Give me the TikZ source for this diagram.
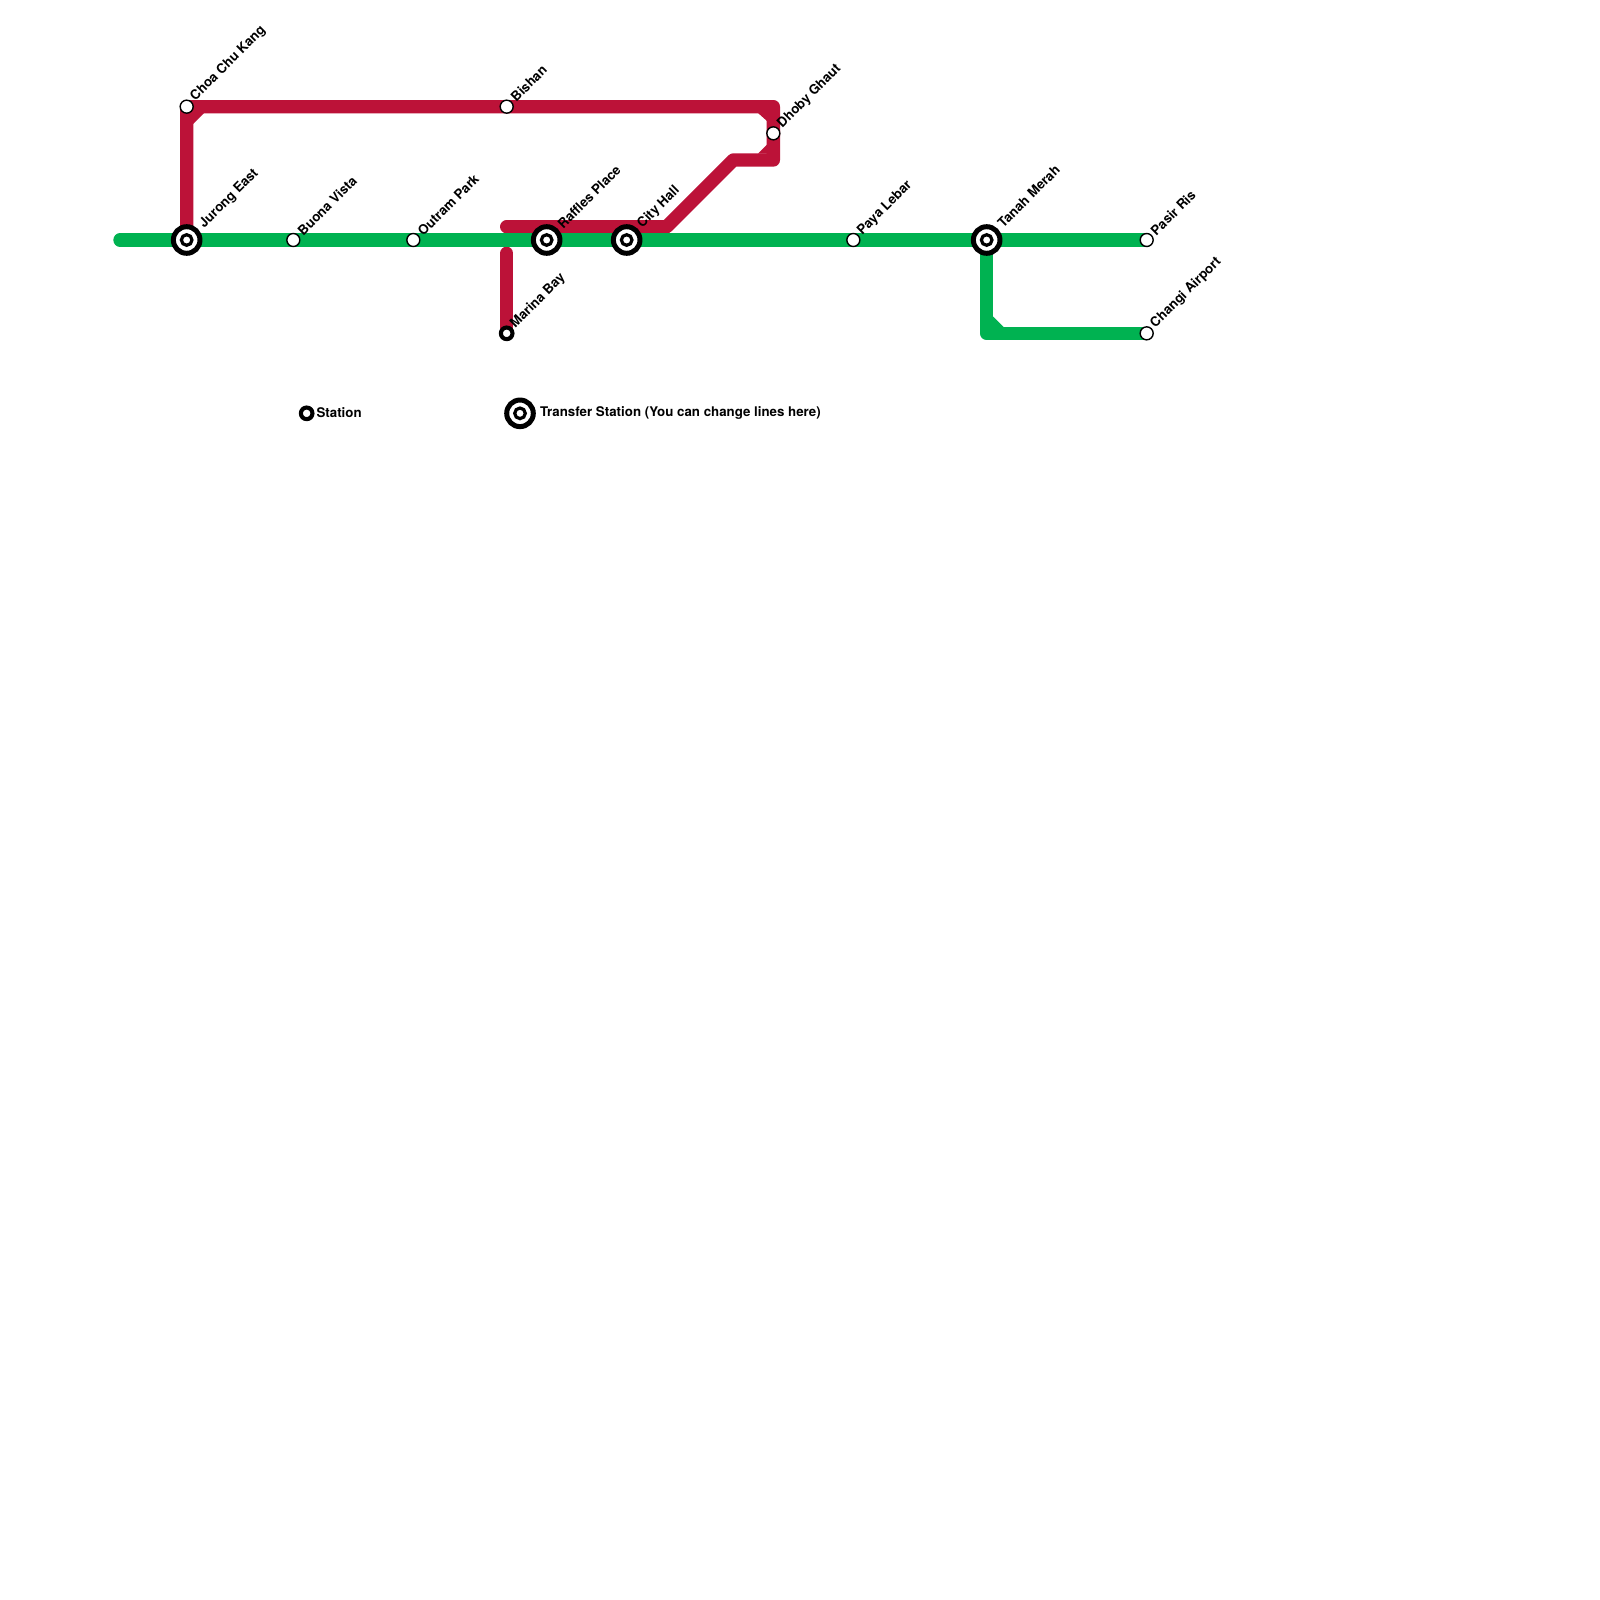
\documentclass[tikz,border=0pt]{standalone}
\usepackage{fontspec}
\setmainfont{TeX Gyre Heros}
\definecolor{redline}{HTML}{BC1238}
\definecolor{greenline}{HTML}{00B251}
\tikzset{
  x=1pt,y=-1pt,
  metro/.style={line width=13.33pt,line join=round,line cap=round},
  redl/.style={metro,draw=redline},
  greenl/.style={metro,draw=greenline},
  plain/.style={circle,draw=black,fill=white,line width=1.4pt,minimum size=13pt,inner sep=0pt,outer sep=0pt},
  terminal/.style={circle,draw=black,fill=white,line width=4.1pt,minimum size=11.6pt,inner sep=0pt,outer sep=0pt},
  ringouter/.style={circle,draw=black,fill=white,line width=5pt,minimum size=26.6pt,inner sep=0pt,outer sep=0pt},
  ringinner/.style={circle,draw=black,fill=white,line width=3.2pt,minimum size=10.6pt,inner sep=0pt,outer sep=0pt},
  lab/.style={rotate=45,anchor=west,inner sep=0pt,outer sep=0pt,font=\fontsize{13.3}{13.3}\selectfont\bfseries,text=black},
  legend/.style={anchor=west,inner sep=0pt,outer sep=0pt,font=\fontsize{13.3}{13.3}\selectfont\bfseries,text=black},
}
\newcommand{\ringstation}[3]{\node[ringouter] (#1) at (#2,#3) {};\node[ringinner] (#1c) at (#2,#3) {};}
\begin{document}
\begin{tikzpicture}
\useasboundingbox (0,0) rectangle (1600,1600);
\fill[white] (0,0) rectangle (1600,1600);
% way points
\coordinate (gstart) at (120,240);
\coordinate (je) at (186.67,240);
\coordinate (cck) at (186.67,106.67);
\coordinate (bishan) at (506.67,106.67);
\coordinate (tr) at (773.33,106.67);
\coordinate (dg) at (773.33,133.33);
\coordinate (br) at (773.33,160);
\coordinate (dtop) at (733.33,160);
\coordinate (dbot) at (666.67,226.67);
\coordinate (rstart) at (506.67,226.67);
\coordinate (mtop) at (506.67,253.33);
\coordinate (mb) at (506.67,333.33);
\coordinate (tm) at (986.67,240);
\coordinate (pr) at (1146.67,240);
\coordinate (gc) at (986.67,333.33);
\coordinate (ca) at (1146.67,333.33);
% red line
\draw[redl] (je) -- (cck) -- (bishan) -- (tr) -- (dg) -- (br) -- (dtop) -- (dbot) -- (rstart);
\draw[redl] (mtop) -- (mb);
\fill[redline] (193,124) -- (204,113) -- (193,113) -- cycle;
\fill[redline] (758,113) -- (767,121) -- (767,113) -- cycle;
\fill[redline] (767,144.5) -- (758,153.5) -- (767,153.5) -- cycle;
% green line
\draw[greenl] (gstart) -- (je) -- (tm) -- (pr);
\draw[greenl] (tm) -- (gc) -- (ca);
\fill[greenline] (993,316.5) -- (1003.5,327) -- (993,327) -- cycle;
% stations
\ringstation{jes}{186.67}{240}
\ringstation{rp}{546.67}{240}
\ringstation{ch}{626.67}{240}
\ringstation{tms}{986.67}{240}
\node[plain] (ccks) at (cck) {};
\node[plain] (bv) at (293.33,240) {};
\node[plain] (op) at (413.33,240) {};
\node[plain] (bis) at (bishan) {};
\node[plain] (dgs) at (dg) {};
\node[plain] (pl) at (853.33,240) {};
\node[plain] (prs) at (pr) {};
\node[plain] (cas) at (ca) {};
\node[terminal] (mbs) at (mb) {};
% labels
\node[lab] (l1) at (193,99) {Choa Chu Kang};
\node[lab] (l2) at (202,226) {Jurong East};
\node[lab] (l3) at (300,233) {Buona Vista};
\node[lab] (l4) at (420,233) {Outram Park};
\node[lab] (l5) at (513,99) {Bishan};
\node[lab] (l6) at (560,226) {Raffles Place};
\node[lab] (l7) at (640,226) {City Hall};
\node[lab] (l8) at (780,126) {Dhoby Ghaut};
\node[lab] (l9) at (513,326) {Marina Bay};
\node[lab] (l10) at (860,233) {Paya Lebar};
\node[lab] (l11) at (1000,225) {Tanah Merah};
\node[lab] (l12) at (1153,233) {Pasir Ris};
\node[lab] (l13) at (1153,326) {Changi Airport};
% legend
\node[terminal] (lg1) at (306.67,413.33) {};
\node[legend] (lg1t) at (316.5,412.5) {Station};
\ringstation{lg2}{520}{413.33}
\node[legend] (lg2t) at (540,412.5) {Transfer Station (You can change lines here)};
\end{tikzpicture}
\end{document}
